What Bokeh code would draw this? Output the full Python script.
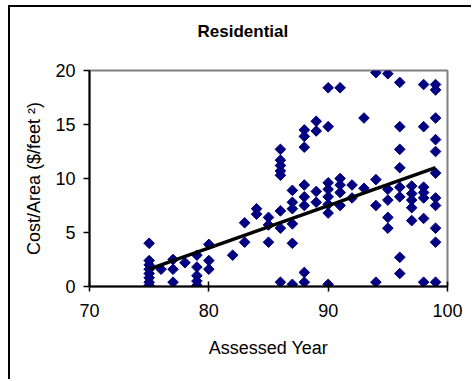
from bokeh.plotting import figure
from bokeh.models import Range1d, FixedTicker, ColumnDataSource, Title
from bokeh.embed import file_html
from bokeh.resources import INLINE
import math

# ---- data ----
assessed_year = (
    [75] * 8 + [76] + [77] * 3 + [78] + [79] * 5 + [80] * 3 + [82] + [83] * 2 +
    [84] * 2 + [85] * 3 + [86] * 8 + [87] * 6 + [88] * 8 + [89] * 4 + [90] * 8 +
    [91] * 5 + [92] * 2 + [93] * 2 + [94] * 4 + [95] * 5 + [96] * 8 + [97] * 5 +
    [98] * 7 + [99] * 11
)
cost_per_area = [
    4.0, 2.4, 2.0, 1.6, 1.2, 0.8, 0.4, 0.1,          # 75
    1.6,                                             # 76
    2.5, 1.6, 0.4,                                   # 77
    2.2,                                             # 78
    2.9, 1.8, 1.0, 0.5, 0.1,                         # 79
    3.9, 2.4, 1.6,                                   # 80
    2.9,                                             # 82
    5.9, 4.1,                                        # 83
    7.2, 6.7,                                        # 84
    6.4, 5.7, 4.1,                                   # 85
    12.7, 11.7, 11.2, 10.7, 10.3, 7.0, 5.4, 0.4,     # 86
    8.9, 7.8, 7.2, 5.8, 4.0, 0.2,                    # 87
    14.5, 13.9, 12.9, 9.4, 8.3, 7.5, 1.3, 0.4,       # 88
    15.3, 14.4, 8.8, 7.8,                            # 89
    18.4, 14.8, 9.6, 9.0, 8.3, 7.6, 6.8, 0.2,        # 90
    18.4, 10.0, 9.4, 8.7, 7.5,                       # 91
    9.4, 8.2,                                        # 92
    15.6, 9.1,                                       # 93
    19.8, 9.9, 7.5, 0.4,                             # 94
    19.7, 9.0, 8.0, 6.4, 5.4,                        # 95
    18.9, 14.8, 12.7, 11.0, 9.2, 8.3, 2.7, 1.2,      # 96
    9.3, 8.6, 8.0, 7.3, 6.1,                         # 97
    18.7, 14.8, 9.2, 8.7, 8.2, 6.3, 0.4,             # 98
    18.7, 18.2, 15.6, 13.6, 12.5, 10.5, 8.2, 7.5, 5.4, 4.1, 0.4,  # 99
]
trend_year = [75, 99]
trend_value = [1.6, 11.0]
x_ticks = [70, 80, 90, 100]
y_ticks = [0, 5, 10, 15, 20]

title_text = "Residential"
x_label = "Assessed Year"
y_label = "Cost/Area ($/feet \u00b2)"

# ---- layout (page pixels) ----
OX, OY = 10, 7                      # canvas origin inside the chart border
W, H = 473 - OX, 381 - OY
FL, FR, FT, FB = 89, 447, 70, 286   # plot frame in page pixels

FONT = "Liberation Sans"

p = figure(width=W, height=H, output_backend="svg", toolbar_location=None,
           title=None,
           x_range=Range1d(70, 100), y_range=Range1d(0, 20),
           min_border_left=FL - OX, min_border_right=(473 - FR),
           min_border_top=FT - OY, min_border_bottom=(381 - FB))
p.styles = {"margin-left": "8px", "margin-top": "5px",
            "border-left": "2px solid black", "border-top": "2px solid black"}
p.background_fill_color = "white"
p.border_fill_color = "white"
p.outline_line_color = "#808080"
p.outline_line_width = 2
p.grid.visible = False

for ax in (p.xaxis[0], p.yaxis[0]):
    ax.axis_line_color = "black"
    ax.axis_line_width = 2
    ax.major_tick_line_color = "black"
    ax.major_tick_line_width = 1.5
    ax.minor_tick_line_color = None
    ax.major_label_text_font = FONT
    ax.major_label_text_font_size = "18px"
    ax.major_label_text_color = "black"
    ax.axis_label_text_font = FONT
    ax.axis_label_text_font_size = "18px"
    ax.axis_label_text_font_style = "normal"
    ax.axis_label_text_color = "black"

p.xaxis.ticker = FixedTicker(ticks=x_ticks)
p.yaxis.ticker = FixedTicker(ticks=y_ticks)
p.xaxis.major_tick_in = 5
p.xaxis.major_tick_out = 5
p.yaxis.major_tick_in = 0
p.yaxis.major_tick_out = 6
p.xaxis.major_label_standoff = 12
p.yaxis.major_label_standoff = 8
p.xaxis.axis_label = x_label
p.yaxis.axis_label = y_label
p.xaxis.axis_label_standoff = 18
p.yaxis.axis_label_standoff = 8

# spacer between the title and the plot frame (closest to the frame)
spacer = Title(text=" ", text_font=FONT, text_font_size="10px", standoff=17)
p.add_layout(spacer, "above")
main_title = Title(text=title_text, text_font=FONT, text_font_size="17px",
                   text_font_style="bold", text_color="black",
                   align="left", offset=108, vertical_align="bottom", standoff=0)
p.add_layout(main_title, "above")

src = ColumnDataSource(dict(x=assessed_year, y=cost_per_area))
p.scatter("x", "y", source=src, marker="square", size=7.5, angle=math.pi / 4,
          fill_color="#000080", line_color="#000080", line_width=1)
p.line(trend_year, trend_value, line_color="black", line_width=3.5)

open("out.html", "w").write(file_html(p, INLINE))
